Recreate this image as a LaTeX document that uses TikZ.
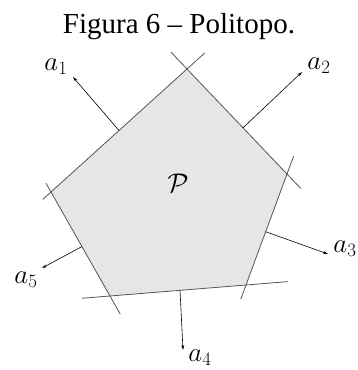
\RequirePackage{fix-cm}
\documentclass[tikz,border=0pt]{standalone}
\usepackage{fontspec}
\setmainfont{Liberation Serif}
\usetikzlibrary{calc,arrows.meta}
\definecolor{polyfill}{HTML}{E6E6E6}
\definecolor{edgegray}{HTML}{555555}

\begin{document}
\begin{tikzpicture}[x=1pt,y=-1pt,
    edge/.style={edgegray,line width=0.8pt},
    normal/.style={black,line width=0.6pt,-{Stealth[length=5pt,width=3pt]}},
    lbl/.style={font=\fontsize{27}{32}\selectfont,inner sep=0pt}]
    \useasboundingbox (0,0) rectangle (358,370);
    \node[anchor=base,font=\fontsize{29}{34}\selectfont] (title) at (179,33) {Figura 6 -- Politopo.};
    % vertices of the polytope
    \coordinate (vt) at (187,69);
    \coordinate (vr) at (287,174);
    \coordinate (vbr) at (246,285);
    \coordinate (vbl) at (110,296);
    \coordinate (vl) at (51,192);
    \fill[polyfill] (vt)--(vr)--(vbr)--(vbl)--(vl)--cycle;
    % supporting lines
    \draw[edge,shorten <=-23pt,shorten >=-20pt] (vt)--(vr);
    \draw[edge,shorten <=-19pt,shorten >=-15pt] (vr)--(vbr);
    \draw[edge,shorten <=-42pt,shorten >=-28pt] (vbr)--(vbl);
    \draw[edge,shorten <=-21pt,shorten >=-10pt] (vbl)--(vl);
    \draw[edge,shorten <=-11pt,shorten >=-24pt] (vl)--(vt);
    \node[lbl] (P) at (178,183) {$\mathcal{P}$};
    % normals
    \coordinate (s1) at ($(vl)!0.5!(vt)$);
    \coordinate (s2) at ($(vt)!0.56!(vr)$);
    \coordinate (s3) at ($(vr)!0.52!(vbr)$);
    \coordinate (s4) at ($(vbr)!0.485!(vbl)$);
    \coordinate (s5) at ($(vbl)!0.475!(vl)$);
    \coordinate (t1) at (73,77);
    \coordinate (t2) at (302,72);
    \coordinate (t3) at (328,254);
    \coordinate (t4) at (183,350);
    \coordinate (t5) at (42,268);
    \foreach \i in {1,...,5}
        \draw[normal] (s\i)--(t\i);
    \node[lbl] (a1) at (56,67) {$a_1$};
    \node[lbl] (a2) at (319,66) {$a_2$};
    \node[lbl] (a3) at (345,249) {$a_3$};
    \node[lbl] (a4) at (200,358) {$a_4$};
    \node[lbl] (a5) at (26,280) {$a_5$};
\end{tikzpicture}
\end{document}
